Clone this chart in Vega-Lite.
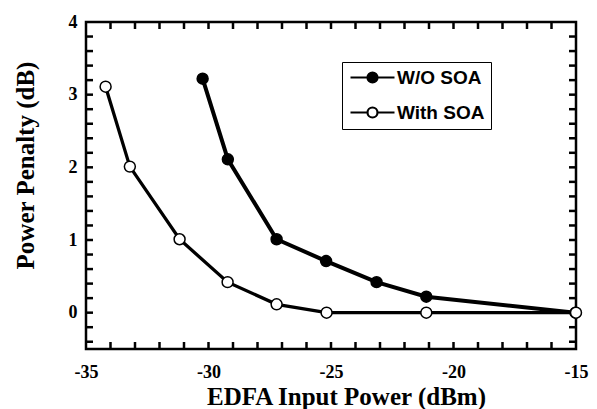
{
  "$schema": "https://vega.github.io/schema/vega-lite/v6.json",
  "autosize": "none",
  "padding": {"left": 86, "top": 22, "right": 21, "bottom": 60},
  "width": 490,
  "height": 327,
  "background": "white",
  "config": {
    "view": {"stroke": "black", "strokeWidth": 2.5},
    "axis": {"grid": false, "domain": false, "ticks": false, "labelFlush": false,
      "labelFont": "Liberation Serif", "labelFontWeight": "bold", "labelFontSize": 18, "labelColor": "black",
      "titleFont": "Liberation Serif", "titleFontWeight": "bold", "titleFontSize": 25, "titleColor": "black"}
  },
  "datasets": {
    "curves": [
      {"series": "W/O SOA", "x": -30.24, "y": 3.22},
      {"series": "W/O SOA", "x": -29.21, "y": 2.11},
      {"series": "W/O SOA", "x": -27.22, "y": 1.01},
      {"series": "W/O SOA", "x": -25.2, "y": 0.71},
      {"series": "W/O SOA", "x": -23.14, "y": 0.42},
      {"series": "W/O SOA", "x": -21.11, "y": 0.22},
      {"series": "W/O SOA", "x": -15.02, "y": 0.0},
      {"series": "With SOA", "x": -34.2, "y": 3.11},
      {"series": "With SOA", "x": -33.21, "y": 2.01},
      {"series": "With SOA", "x": -31.18, "y": 1.01},
      {"series": "With SOA", "x": -29.22, "y": 0.42},
      {"series": "With SOA", "x": -27.22, "y": 0.115},
      {"series": "With SOA", "x": -25.18, "y": 0.0},
      {"series": "With SOA", "x": -21.11, "y": 0.0},
      {"series": "With SOA", "x": -15.0, "y": 0.0}
    ],
    "xticks": [
      {"v": -34}, {"v": -33}, {"v": -32}, {"v": -31}, {"v": -30}, {"v": -29}, {"v": -28}, {"v": -27}, {"v": -26},
      {"v": -25}, {"v": -24}, {"v": -23}, {"v": -22}, {"v": -21}, {"v": -20}, {"v": -19}, {"v": -18}, {"v": -17}, {"v": -16}
    ],
    "yticks": [
      {"v": -0.4}, {"v": -0.2}, {"v": 0}, {"v": 0.2}, {"v": 0.4}, {"v": 0.6}, {"v": 0.8}, {"v": 1}, {"v": 1.2}, {"v": 1.4},
      {"v": 1.6}, {"v": 1.8}, {"v": 2}, {"v": 2.2}, {"v": 2.4}, {"v": 2.6}, {"v": 2.8}, {"v": 3}, {"v": 3.2}, {"v": 3.4},
      {"v": 3.6}, {"v": 3.8}
    ]
  },
  "data": {"name": "curves"},
  "layer": [
    {
      "transform": [{"filter": "datum.series === 'With SOA'"}],
      "mark": {"type": "line", "color": "black", "strokeWidth": 3.3, "clip": true},
      "encoding": {
        "x": {"field": "x", "type": "quantitative", "scale": {"domain": [-35, -15], "nice": false},
          "axis": {"orient": "bottom", "title": "EDFA Input Power (dBm)", "labelPadding": 14, "titlePadding": 3, "titleX": 260,
            "values": [-35, -30, -25, -20, -15], "labelExpr": "'' + datum.value"}},
        "y": {"field": "y", "type": "quantitative", "scale": {"domain": [-0.5, 4], "nice": false, "zero": false},
          "axis": {"orient": "left", "title": "Power Penalty (dB)", "labelPadding": 9, "titlePadding": 30, "titleY": 143,
            "values": [0, 1, 2, 3, 4], "labelExpr": "'' + datum.value"}}
      }
    },
    {
      "transform": [{"filter": "datum.series === 'W/O SOA'"}],
      "mark": {"type": "line", "color": "black", "strokeWidth": 4},
      "encoding": {
        "x": {"field": "x", "type": "quantitative"},
        "y": {"field": "y", "type": "quantitative"}
      }
    },
    {
      "data": {"name": "xticks"},
      "mark": {"type": "tick", "orient": "vertical", "size": 7, "thickness": 2.5, "color": "black", "opacity": 1, "yOffset": -3.5},
      "encoding": {"x": {"field": "v", "type": "quantitative"}, "y": {"datum": -0.5, "type": "quantitative"}}
    },
    {
      "data": {"name": "xticks"},
      "mark": {"type": "tick", "orient": "vertical", "size": 7, "thickness": 2.5, "color": "black", "opacity": 1, "yOffset": 3.5},
      "encoding": {"x": {"field": "v", "type": "quantitative"}, "y": {"datum": 4, "type": "quantitative"}}
    },
    {
      "data": {"name": "yticks"},
      "mark": {"type": "tick", "orient": "horizontal", "size": 7, "thickness": 2.5, "color": "black", "opacity": 1, "xOffset": 3.5},
      "encoding": {"y": {"field": "v", "type": "quantitative"}, "x": {"datum": -35, "type": "quantitative"}}
    },
    {
      "data": {"name": "yticks"},
      "mark": {"type": "tick", "orient": "horizontal", "size": 7, "thickness": 2.5, "color": "black", "opacity": 1, "xOffset": -3.5},
      "encoding": {"y": {"field": "v", "type": "quantitative"}, "x": {"datum": -15, "type": "quantitative"}}
    },
    {
      "mark": {"type": "point", "shape": "circle", "filled": true, "size": 120, "stroke": "black", "strokeWidth": 1.5, "opacity": 1},
      "encoding": {
        "x": {"field": "x", "type": "quantitative"},
        "y": {"field": "y", "type": "quantitative"},
        "fill": {"field": "series", "type": "nominal",
          "scale": {"domain": ["W/O SOA", "With SOA"], "range": ["black", "white"]},
          "legend": {"title": null, "orient": "none", "legendX": 256, "legendY": 40,
            "strokeColor": "black", "fillColor": "white", "padding": 6,
            "symbolType": "M-4.4,0L-1,0M1,0L4.4,0M1,0A1,1,0,1,1,-1,0A1,1,0,1,1,1,0",
            "symbolSize": 100, "symbolStrokeColor": "black", "symbolStrokeWidth": 2.2, "symbolOffset": 15,
            "labelOffset": 15, "labelFont": "Liberation Sans", "labelFontWeight": "bold", "labelFontSize": 19,
            "labelColor": "black", "rowPadding": 15}}
      }
    }
  ]
}
